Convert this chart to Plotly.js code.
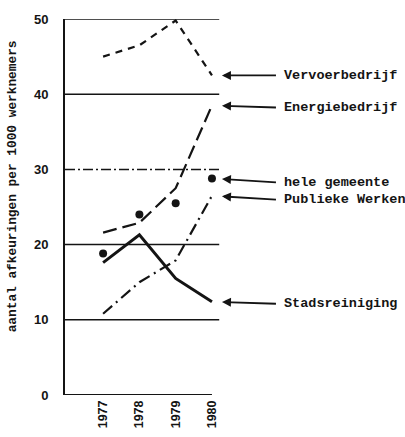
<!DOCTYPE html>
<html>
<head>
<meta charset="utf-8">
<script src="https://cdn.plot.ly/plotly-3.0.1.min.js"></script>
<style>html,body{margin:0;padding:0;background:#fff;}#chart{width:405px;height:437px;}</style>
</head>
<body>
<div id="chart"></div>
<script>
const years = [1977, 1978, 1979, 1980];
const vervoerbedrijf = [45.0, 46.5, 49.8, 42.5];
const energiebedrijf = [21.6, 22.9, 27.5, 38.5];
const heleGemeente = [18.8, 24.0, 25.5, 28.8];
const publiekeWerken = [10.8, 15.0, 17.9, 26.5];
const stadsreiniging = [17.6, 21.3, 15.5, 12.4];
const seriesNames = ['Vervoerbedrijf', 'Energiebedrijf', 'hele gemeente', 'Publieke Werken', 'Stadsreiniging'];
const yTicks = [0, 10, 20, 30, 40, 50];
const yTitle = 'aantal afkeuringen per 1000 werknemers';

const ink = '#141414';
const mono = 'Liberation Mono, Courier New, monospace';
const sans = 'Liberation Sans, Arial, sans-serif';

const traces = [
  {x: years, y: vervoerbedrijf, mode: 'lines', line: {color: ink, width: 2.2, dash: '7px,6px'}},
  {x: years, y: energiebedrijf, mode: 'lines', line: {color: ink, width: 2.2, dash: '14px,6px'}},
  {x: years, y: heleGemeente, mode: 'markers', marker: {color: ink, size: 8}},
  {x: years, y: publiekeWerken, mode: 'lines', line: {color: ink, width: 2.2, dash: '12px,5px,2px,5px'}},
  {x: years, y: stadsreiniging, mode: 'lines', line: {color: ink, width: 3}}
].map((t, i) => Object.assign(t, {name: seriesNames[i], showlegend: false, cliponaxis: false, hoverinfo: 'skip'}));

const xStart = 1975.95, xEnd = 1985.32, gridEnd = 1980.2;
const shapes = yTicks.filter(v => v > 0).map(v => ({
  type: 'line', xref: 'x', yref: 'y', x0: xStart, x1: gridEnd, y0: v, y1: v,
  line: {color: ink, width: 1.5, dash: v === 30 ? '10px,3px,2px,3px' : 'solid'}
}));
shapes.push({type: 'line', xref: 'x', yref: 'y', x0: xStart, x1: years[years.length - 1], y0: 0, y1: 0, line: {color: ink, width: 2}});

const seriesData = [vervoerbedrijf, energiebedrijf, heleGemeente, publiekeWerken, stadsreiniging];
const labelShift = [0, 2, 4, 4, 2];
const annotations = seriesNames.map((name, i) => ({
  x: years[years.length - 1], y: seriesData[i][years.length - 1], xref: 'x', yref: 'y',
  text: name, showarrow: true, arrowhead: 2, arrowsize: 1, arrowwidth: 1.8, arrowcolor: ink,
  standoff: 10, axref: 'pixel', ayref: 'pixel', ax: 64, ay: labelShift[i],
  xanchor: 'left', yanchor: 'middle', borderpad: 7,
  font: {family: mono, size: 13.5, color: ink, weight: 'bold'}
}));
annotations.push({
  xref: 'paper', yref: 'paper', x: -53 / 340, y: 0.555, text: yTitle, showarrow: false,
  textangle: -90, xanchor: 'center', yanchor: 'middle',
  font: {family: mono, size: 12.8, color: ink, weight: 'bold'}
});

const layout = {
  width: 405, height: 437,
  margin: {l: 65, r: 0, t: 19, b: 42},
  paper_bgcolor: '#fff', plot_bgcolor: '#fff',
  showlegend: false,
  xaxis: {
    range: [xStart, xEnd], tickvals: years, ticktext: years.map(String), tickangle: -90,
    showgrid: false, zeroline: false, showline: false, ticks: '', ticklabelstandoff: 2,
    tickfont: {family: sans, size: 12.5, color: ink, weight: 'bold'}
  },
  yaxis: {
    range: [0, 50], tickvals: yTicks, showgrid: false, zeroline: false,
    showline: true, linecolor: ink, linewidth: 2, ticks: '', ticklabelstandoff: 12,
    tickfont: {family: sans, size: 13, color: ink, weight: 'bold'}
  },
  shapes: shapes,
  annotations: annotations
};

Plotly.newPlot('chart', traces, layout, {displayModeBar: false, staticPlot: true});
</script>
</body>
</html>
